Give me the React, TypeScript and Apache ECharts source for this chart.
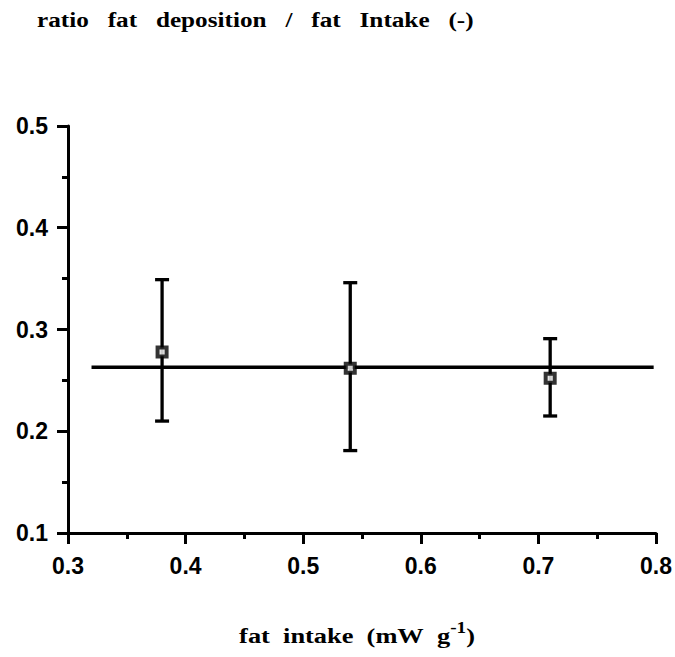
import React, { useEffect, useRef } from "react";
import * as echarts from "echarts";

const xValues = [0.38, 0.54, 0.71];
const meanValues = [0.278, 0.262, 0.252];
const lowerValues = [0.21, 0.181, 0.215];
const upperValues = [0.349, 0.346, 0.291];
const fitLineX = [0.32, 0.798];
const fitLineY = [0.263, 0.263];
const G3 = "\u00a0\u00a0\u00a0";
const G2 = "\u00a0\u00a0";
const yTitle = ["ratio", "fat", "deposition", "/", "fat", "Intake", "(-)"].join(G3);
const xTitleMain = ["fat", "intake", "(mW", "g"].join(G2);
const xTitleSup = "-1";

export default function App() {
  const ref = useRef<HTMLDivElement>(null);
  useEffect(() => {
    if (!ref.current) return;
    const chart = echarts.init(ref.current, null, { renderer: "svg" });
    const points = xValues.map((x, i) => [x, meanValues[i]]);
    const bars = xValues.map((x, i) => [x, lowerValues[i], upperValues[i]]);
    const line = fitLineX.map((x, i) => [x, fitLineY[i]]);
    const axisCommon = {
      axisLine: { show: true, onZero: false, lineStyle: { color: "#000", width: 3 } },
      axisTick: { show: true, inside: false, length: 11, lineStyle: { color: "#000", width: 3 } },
      minorTick: { show: true, splitNumber: 2, length: 6, lineStyle: { color: "#000", width: 3 } },
      splitLine: { show: false },
      axisLabel: {
        color: "#000",
        fontFamily: "Liberation Sans, Arial, sans-serif",
        fontSize: 23,
        fontWeight: "bold",
        formatter: (v: number) => v.toFixed(1),
      },
    };
    chart.setOption({
      animation: false,
      backgroundColor: "#fff",
      grid: { left: 68, right: 18, top: 126, bottom: 124 },
      xAxis: {
        type: "value",
        min: 0.3,
        max: 0.8,
        interval: 0.1,
        ...axisCommon,
        axisLabel: { ...axisCommon.axisLabel, margin: 21 },
      },
      yAxis: {
        type: "value",
        min: 0.1,
        max: 0.5,
        interval: 0.1,
        ...axisCommon,
        axisLabel: { ...axisCommon.axisLabel, margin: 20 },
      },
      graphic: [
        {
          type: "text",
          x: 37,
          y: 9,
          scaleX: 1.2,
          style: {
            text: yTitle,
            fill: "#000",
            font: "bold 21px 'Liberation Serif', 'Times New Roman', serif",
            verticalAlign: "top",
          },
        },
        {
          type: "text",
          x: 357,
          y: 620,
          scaleX: 1.2,
          style: {
            text: "{a|" + xTitleMain + "}{s|" + xTitleSup + "}{a|)}",
            fill: "#000",
            align: "center",
            verticalAlign: "top",
            rich: {
              a: { fontFamily: "'Liberation Serif', serif", fontWeight: "bold", fontSize: 22, verticalAlign: "bottom", lineHeight: 26 },
              s: { fontFamily: "'Liberation Serif', serif", fontWeight: "bold", fontSize: 16, verticalAlign: "top", lineHeight: 26 },
            },
          },
        },
      ],
      series: [
        {
          type: "line",
          data: line,
          symbol: "none",
          lineStyle: { color: "#000", width: 3.5 },
          z: 2,
        },
        {
          type: "custom",
          data: bars,
          z: 3,
          renderItem: (params: any, api: any) => {
            const x = api.value(0);
            const top = api.coord([x, api.value(2)]);
            const bot = api.coord([x, api.value(1)]);
            const hw = 7;
            const st = { stroke: "#000", lineWidth: 3.3 };
            return {
              type: "group",
              children: [
                { type: "line", shape: { x1: top[0], y1: top[1], x2: bot[0], y2: bot[1] }, style: st },
                { type: "line", shape: { x1: top[0] - hw, y1: top[1], x2: top[0] + hw, y2: top[1] }, style: st },
                { type: "line", shape: { x1: bot[0] - hw, y1: bot[1], x2: bot[0] + hw, y2: bot[1] }, style: st },
              ],
            };
          },
        },
        {
          type: "scatter",
          data: points,
          symbol: "rect",
          symbolSize: 9,
          itemStyle: { color: "#fff", borderColor: "#000", borderWidth: 4 },
          z: 5,
        },
      ],
    });
    return () => chart.dispose();
  }, []);
  return <div ref={ref} style={{ width: 675, height: 657, position: "absolute", left: 0, top: 0 }} />;
}
